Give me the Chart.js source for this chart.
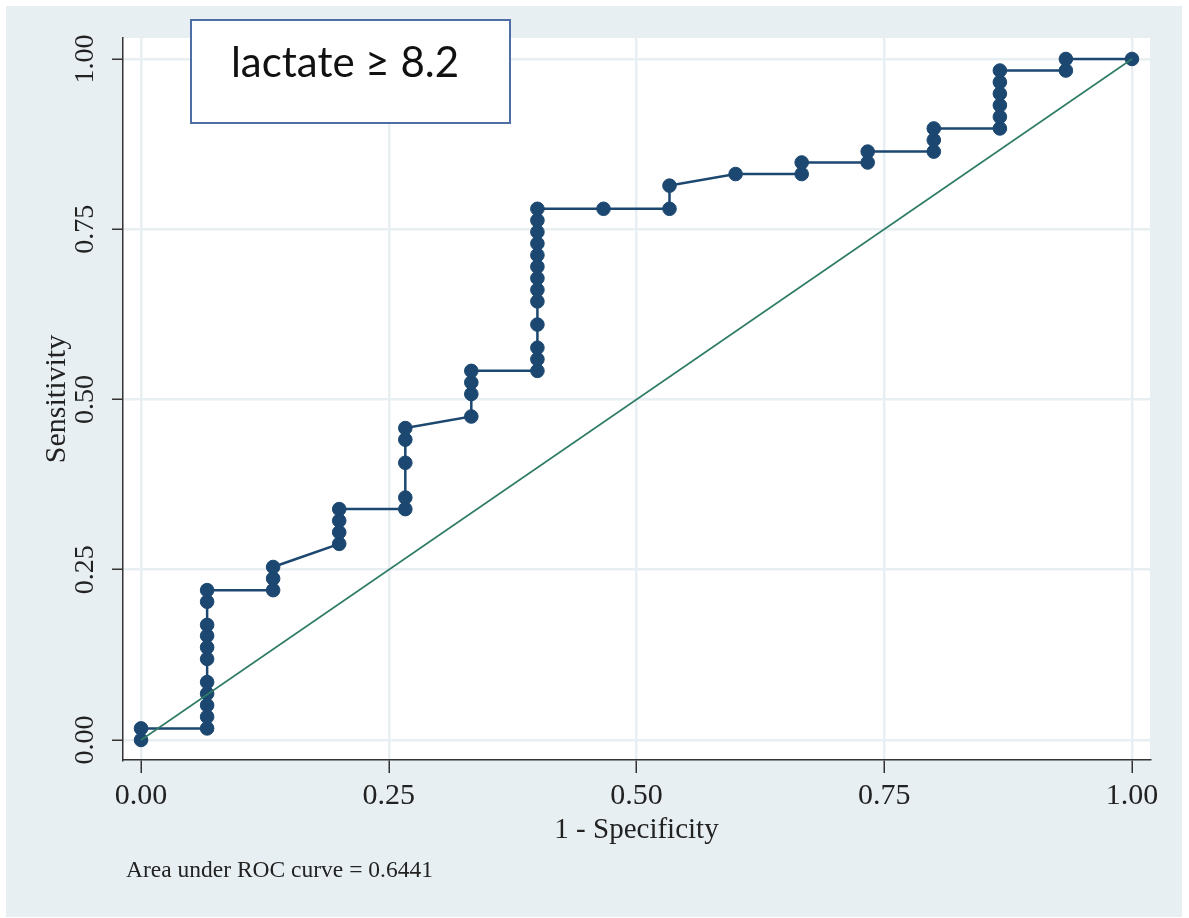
<!DOCTYPE html>
<html>
<head>
<meta charset="utf-8">
<script src="https://cdn.jsdelivr.net/npm/chart.js@4"></script>
<style>
  html, body { margin: 0; padding: 0; background: #fff; }
</style>
</head>
<body>
<canvas id="rocChart" width="1189" height="918"></canvas>
<script>
// ROC points (1 - specificity, sensitivity)
const rocFpr = [
  0, 0,
  0.0667, 0.0667, 0.0667, 0.0667, 0.0667, 0.0667, 0.0667, 0.0667, 0.0667, 0.0667, 0.0667,
  0.1333, 0.1333, 0.1333,
  0.2, 0.2, 0.2, 0.2,
  0.2667, 0.2667, 0.2667, 0.2667, 0.2667,
  0.3333, 0.3333, 0.3333, 0.3333,
  0.4, 0.4, 0.4, 0.4, 0.4, 0.4, 0.4, 0.4, 0.4, 0.4, 0.4, 0.4, 0.4,
  0.4667,
  0.5333, 0.5333,
  0.6,
  0.6667, 0.6667,
  0.7333, 0.7333,
  0.8, 0.8, 0.8,
  0.8667, 0.8667, 0.8667, 0.8667, 0.8667, 0.8667,
  0.9333, 0.9333,
  1
];
const rocTpr = [
  0, 0.017,
  0.017, 0.034, 0.051, 0.068, 0.085, 0.119, 0.136, 0.153, 0.169, 0.203, 0.220,
  0.220, 0.237, 0.254,
  0.288, 0.305, 0.322, 0.339,
  0.339, 0.356, 0.407, 0.441, 0.458,
  0.475, 0.508, 0.525, 0.542,
  0.542, 0.559, 0.576, 0.610, 0.644, 0.661, 0.678, 0.695, 0.712, 0.729, 0.746, 0.763, 0.780,
  0.780,
  0.780, 0.814,
  0.831,
  0.831, 0.848,
  0.848, 0.864,
  0.864, 0.881, 0.898,
  0.898, 0.915, 0.932, 0.949, 0.966, 0.983,
  0.983, 1.0,
  1.0
];
// chance line
const diagX = [0, 1];
const diagY = [0, 1];

const xTicks = [0, 0.25, 0.5, 0.75, 1];
const yTicks = [0, 0.25, 0.5, 0.75, 1];

const boxLabel = "lactate \u2265 8.2";
const aucNote = "Area under ROC curve = 0.6441";

const serif = "'Liberation Serif', 'Times New Roman', serif";
const bgBlue = '#e8eff2';
const ink = '#222';

const decor = {
    id: 'decor',
    beforeDraw(chart) {
        const { ctx, chartArea: a } = chart;
        ctx.save();
        ctx.fillStyle = '#fff';
        ctx.fillRect(0, 0, chart.width, chart.height);
        ctx.fillStyle = bgBlue;
        ctx.fillRect(6, 6, 1176, 911);
        ctx.fillStyle = '#fff';
        ctx.fillRect(a.left, a.top, a.right - a.left, a.bottom - a.top);
        ctx.restore();
    },
    afterDraw(chart) {
        const ctx = chart.ctx;
        ctx.save();
        // label box top-left
        ctx.fillStyle = '#fff';
        ctx.fillRect(191, 20, 319, 103);
        ctx.strokeStyle = '#4e6ea6';
        ctx.lineWidth = 2;
        ctx.strokeRect(191, 20, 319, 103);
        ctx.fillStyle = '#111';
        ctx.font = "42px Lato, 'Open Sans', sans-serif";
        ctx.textAlign = 'center';
        ctx.textBaseline = 'alphabetic';
        ctx.fillText(boxLabel, 345, 77);
        // AUC note
        ctx.font = "23.5px " + serif;
        ctx.textAlign = 'left';
        ctx.fillStyle = ink;
        ctx.fillText(aucNote, 126, 877);
        ctx.restore();
    }
};

new Chart(document.getElementById('rocChart'), {
    type: 'scatter',
    data: {
        datasets: [
            {
                label: 'Reference',
                data: diagX.map((x, i) => ({ x: x, y: diagY[i] })),
                showLine: true,
                borderColor: '#2f7c66',
                borderWidth: 1.6,
                pointRadius: 0,
                order: 0
            },
            {
                label: 'ROC',
                data: rocFpr.map((x, i) => ({ x: x, y: rocTpr[i] })),
                showLine: true,
                borderColor: '#1b4770',
                borderWidth: 2.5,
                backgroundColor: '#1b4770',
                pointBackgroundColor: '#1b4770',
                pointBorderColor: '#1b4770',
                pointRadius: 6.8,
                pointBorderWidth: 1,
                order: 1
            }
        ]
    },
    options: {
        responsive: false,
        animation: false,
        layout: { padding: { left: 0, top: 38, right: 39, bottom: 0 } },
        plugins: {
            legend: { display: false },
            tooltip: { enabled: false }
        },
        scales: {
            x: {
                type: 'linear',
                min: -0.0182,
                max: 1.0182,
                afterBuildTicks: s => { s.ticks = xTicks.map(v => ({ value: v })); },
                afterFit: s => { s.height = 158; },
                grid: { color: bgBlue, lineWidth: 2.5, tickColor: '#333', tickWidth: 1.5, tickLength: 13 },
                border: { color: '#333', width: 1.5 },
                ticks: {
                    font: { family: serif, size: 30 },
                    color: ink,
                    padding: 5,
                    maxRotation: 0,
                    callback: v => v.toFixed(2)
                },
                title: {
                    display: true,
                    text: '1 - Specificity',
                    font: { family: serif, size: 29 },
                    color: ink,
                    padding: { top: 0, bottom: 70 }
                }
            },
            y: {
                type: 'linear',
                min: -0.0294,
                max: 1.0308,
                afterBuildTicks: s => { s.ticks = yTicks.map(v => ({ value: v })); },
                afterFit: s => { s.width = 123; },
                grid: { color: bgBlue, lineWidth: 2.5, tickColor: '#333', tickWidth: 1.5, tickLength: 11 },
                border: { color: '#333', width: 1.5 },
                ticks: {
                    font: { family: serif, size: 28 },
                    color: ink,
                    padding: 2,
                    minRotation: 90,
                    maxRotation: 90,
                    crossAlign: 'center',
                    callback: v => v.toFixed(2)
                },
                title: {
                    display: true,
                    text: 'Sensitivity',
                    font: { family: serif, size: 30 },
                    color: ink,
                    padding: { top: 39, bottom: 0 }
                }
            }
        }
    },
    plugins: [decor]
});
</script>
</body>
</html>
